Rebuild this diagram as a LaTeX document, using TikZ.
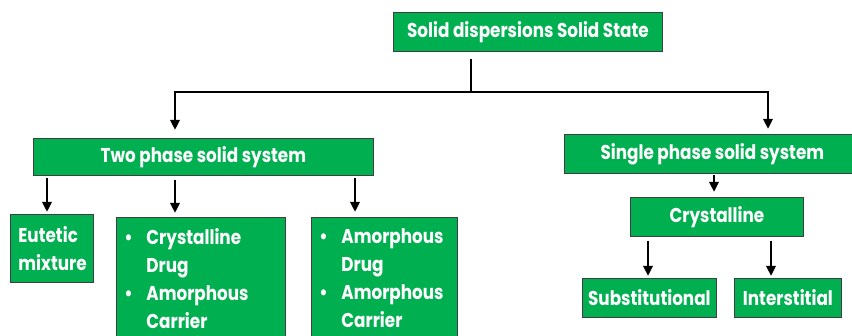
\documentclass[tikz,border=0pt]{standalone}
\usepackage{fontspec}
\setmainfont{Poppins}[FakeStretch=0.84]
\usetikzlibrary{arrows.meta}
\definecolor{gbox}{HTML}{00B050}
\definecolor{gedge}{HTML}{3F3F3F}
\begin{document}
\begin{tikzpicture}[x=1pt,y=-1pt,
 box/.style={draw=gedge, line width=0.8pt, fill=gbox, text=white,
   font=\fontsize{20}{28}\selectfont\bfseries, inner sep=0pt, anchor=north west},
 listbox/.style={box, align=left, inner xsep=8pt},
 conn/.style={line width=2.8pt, black},
 arr/.style={conn, -{Triangle[width=9,length=10]}}]
\useasboundingbox (0,0) rectangle (852,336);
\clip (0,0) rectangle (852,336);
\newcommand{\bul}{\makebox[22pt][l]{\textbullet}}
\newcommand{\ind}{\hspace*{22pt}}
% boxes
\node[box, minimum width=269, minimum height=39] (top) at (393,12) {Solid dispersions Solid State};
\node[box, minimum width=340, minimum height=37] (two) at (33,138) {Two phase solid system};
\node[listbox, minimum height=68, text width=67] (eut) at (10,214) {Eutetic\\mixture};
\node[listbox, minimum height=122, text width=153] (cd) at (116,217) {\bul Crystalline\\\ind Drug\\\bul Amorphous\\\ind Carrier};
\node[listbox, minimum height=122, text width=130] (am) at (311,217) {\bul Amorphous\\\ind Drug\\\bul Amorphous\\\ind Carrier};
\node[box, minimum width=296, minimum height=39] (single) at (564,134) {Single phase solid system};
\node[box, minimum width=173, minimum height=39] (cr) at (630,197) {Crystalline};
\node[box, minimum width=134, minimum height=39] (sub) at (582,278) {Substitutional};
\node[box, minimum width=107, minimum height=39] (int) at (734,278) {Interstitial};
% extend the two list boxes past the lower edge
\fill[gbox] (cd.south west) ++(0.4,-1) rectangle ++(168.2,20);
\draw[gedge, line width=0.8pt] (cd.south west) -- ++(0,20) (cd.south east) -- ++(0,20);
\fill[gbox] (am.south west) ++(0.4,-1) rectangle ++(145.2,20);
\draw[gedge, line width=0.8pt] (am.south west) -- ++(0,20) (am.south east) -- ++(0,20);
% connector coordinates
\coordinate (hj) at (471,92);
\coordinate (la) at (175,92);
\coordinate (ra) at (768,92);
\coordinate (a1) at (47,0);
\coordinate (a2) at (175,0);
\coordinate (a3) at (355,0);
\coordinate (a4) at (714,0);
\coordinate (a5) at (648,0);
\coordinate (a6) at (771,0);
% connectors
\draw[conn, shorten <=7pt] (top.south -| hj) -- (hj);
\draw[conn, line cap=rect] (la) -- (ra);
\draw[arr, shorten >=8pt] (la) -- (la |- two.north);
\draw[arr, shorten >=5pt] (ra) -- (ra |- single.north);
\draw[arr, shorten <=2pt, shorten >=2pt] (two.south -| a1) -- (a1 |- eut.north);
\draw[arr, shorten <=4pt, shorten >=4pt] (two.south -| a2) -- (a2 |- cd.north);
\draw[arr, shorten <=2pt, shorten >=5pt] (two.south -| a3) -- (a3 |- am.north);
\draw[arr, shorten <=1pt, shorten >=5pt] (single.south -| a4) -- (a4 |- cr.north);
\draw[arr, shorten <=4pt, shorten >=2pt] (cr.south -| a5) -- (a5 |- sub.north);
\draw[arr, shorten <=4pt, shorten >=2pt] (cr.south -| a6) -- (a6 |- int.north);
\end{tikzpicture}
\end{document}
